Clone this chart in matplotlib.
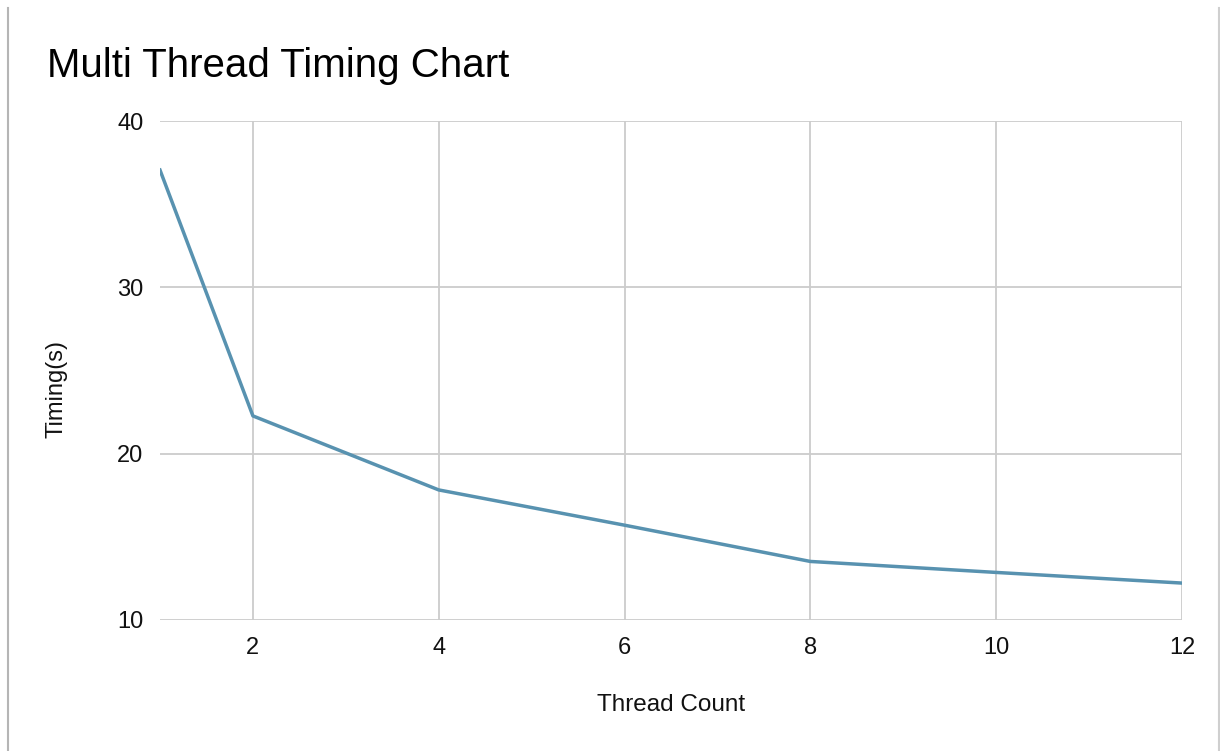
import matplotlib.pyplot as plt
from matplotlib.lines import Line2D

plt.rcParams['font.family'] = ['Liberation Sans', 'DejaVu Sans']

# thread count vs timing (seconds)
threads = [1, 2, 4, 6, 8, 10, 12]
timing = [37.05, 22.27, 17.82, 15.7, 13.52, 12.86, 12.22]

xticks = [2, 4, 6, 8, 10, 12]
yticks = [10, 20, 30, 40]

fig = plt.figure(figsize=(12.2, 7.51), dpi=100)
ax = fig.add_axes([160/1220, 1 - 620/751, (1182 - 160)/1220, (620 - 121)/751])

ax.plot(threads, timing, color='#5892b0', lw=2.5, solid_joinstyle='round')

ax.set_xlim(1, 12)
ax.set_ylim(10, 40)
ax.set_xticks(xticks)
ax.set_yticks(yticks)
ax.grid(True, color='#cccccc', lw=1.3)
ax.set_axisbelow(True)
for s in ax.spines.values():
    s.set_visible(False)
ax.tick_params(length=0, labelsize=17, colors='#111111')
ax.tick_params(axis='x', pad=12)
ax.tick_params(axis='y', pad=12)

fig.text(47/1220, 1 - 77/751, 'Multi Thread Timing Chart', fontsize=29,
         va='baseline', ha='left', color='#000000')
fig.text(671/1220, 1 - 705/751, 'Thread Count', fontsize=17.5,
         ha='center', va='center', color='#111111')
fig.text(57/1220, 1 - 389/751, 'Timing(s)', fontsize=17,
         rotation=90, ha='center', va='center', color='#111111')

# the grey frame edges on the left and right
fig.add_artist(Line2D([8/1220, 8/1220], [0, 1 - 8/751], transform=fig.transFigure,
                      color='#b5b5b5', lw=1.5))
fig.add_artist(Line2D([1219/1220, 1219/1220], [0, 1 - 8/751], transform=fig.transFigure,
                      color='#cfcfcf', lw=1.5))

fig.savefig('out.png', dpi=100)
